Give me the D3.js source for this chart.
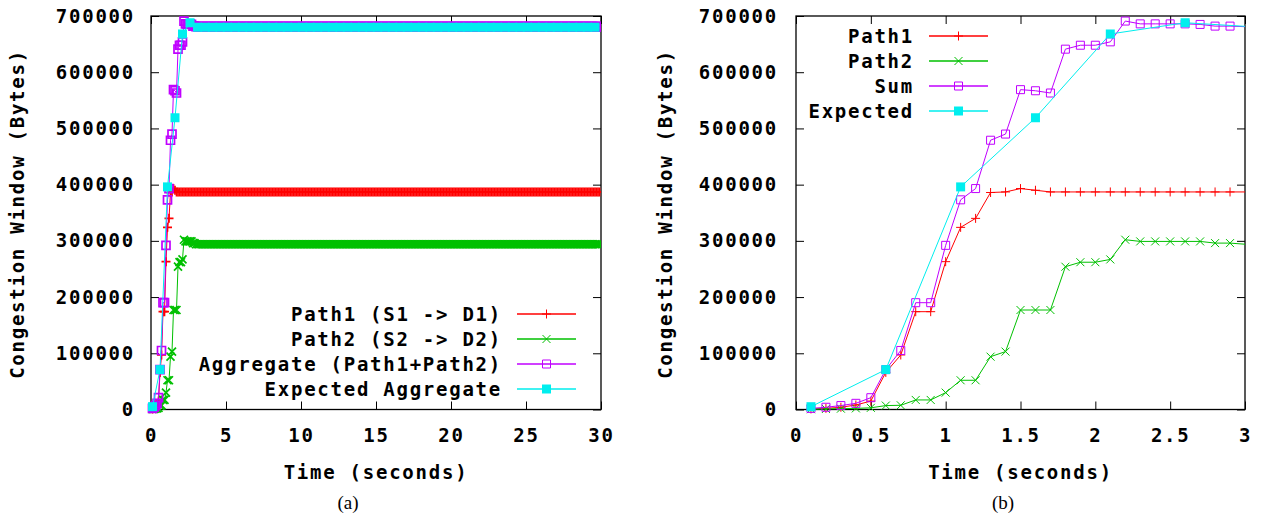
<!DOCTYPE html>
<html>
<head>
<meta charset="utf-8">
<script src="https://cdn.jsdelivr.net/npm/d3@7"></script>
<style>
body { margin: 0; background: #fff; }
text { font-family: "DejaVu Sans Mono", monospace; font-weight: bold; font-size: 19px; letter-spacing: 1.75px; fill: #000; }
text.caption { font-family: "Liberation Serif", serif; font-weight: normal; font-size: 19px; letter-spacing: 0; }
</style>
</head>
<body>
<div id="chart"></div>
<script>
// sampled congestion windows (bytes), one sample every 0.1 s
var time  = [0.1, 0.2, 0.3, 0.4, 0.5, 0.6, 0.7, 0.8, 0.9, 1.0,
             1.1, 1.2, 1.3, 1.4, 1.5, 1.6, 1.7, 1.8, 1.9, 2.0,
             2.1, 2.2, 2.3, 2.4, 2.5, 2.6, 2.7, 2.8, 2.9];
var path1 = [1000, 2000, 4000, 8000, 15000, 66000, 97000, 174000, 174000, 263000,
             324000, 340000, 386000, 387000, 393000, 390000, 387000, 387000, 387000, 387000,
             387000, 387000, 387000, 387000, 387000, 387000, 387000, 387000, 387000];
var path2 = [500, 1000, 1500, 2000, 3000, 7000, 7500, 17000, 17000, 30000,
             52000, 52000, 94000, 103000, 177000, 177000, 177000, 254000, 262000, 262000,
             267000, 302000, 299000, 299000, 299000, 299000, 299000, 296000, 296000];
var sum   = [2000, 4000, 7000, 11000, 21000, 71000, 105000, 190000, 190000, 292000,
             373000, 393000, 479000, 490000, 569000, 567000, 563000, 641000, 648000, 648000,
             654000, 691000, 686000, 686000, 686000, 686000, 685000, 682000, 682000];
// expected aggregate, every 0.5 s
var expTime  = [0.1, 0.6, 1.1, 1.6, 2.1, 2.6, 3.1];
var expected = [5000, 71000, 396000, 519000, 668000, 688000, 680000];

// steady levels (a) after 3 s, run ends at 30 s
var steadyPath1 = 387000, steadyPath2 = 294000, steadySum = 681000, steadyExp = 680000;
var runEnd = 30;

var yTicks = [0, 100000, 200000, 300000, 400000, 500000, 600000, 700000];
var xTicksA = [0, 5, 10, 15, 20, 25, 30];
var xTicksB = [0, 0.5, 1, 1.5, 2, 2.5, 3];
var legendA = ["Path1 (S1 -> D1)", "Path2 (S2 -> D2)", "Aggregate (Path1+Path2)", "Expected Aggregate"];
var legendB = ["Path1", "Path2", "Sum", "Expected"];

var colors = ["#ff0000", "#00c000", "#c000ff", "#00eeee"];
var shapes = ["plus", "cross", "box", "fbox"];

// build the full 30 s run
var tailTime = d3.range(30, runEnd * 10 + 1).map(function(i) { return i / 10; });
var tailExpTime = d3.range(36, runEnd * 10, 5).map(function(i) { return i / 10; });
function pairs(ts, vs) { return ts.map(function(t, i) { return [t, vs[i]]; }); }
function steady(ts, v) { return ts.map(function(t) { return [t, v]; }); }

var series = [
  pairs(time, path1).concat(steady(tailTime, steadyPath1)),
  pairs(time, path2).concat(steady(tailTime, steadyPath2)),
  pairs(time, sum).concat(steady(tailTime, steadySum)),
  pairs(expTime, expected).concat(steady(tailExpTime, steadyExp))
];

var svg = d3.select('#chart').append('svg')
    .attr('width', 1263)
    .attr('height', 516);

function markerPath(kind) {
  if (kind === 'plus') return 'M-4.5,0H4.5M0,-4.5V4.5';
  if (kind === 'cross') return 'M-4,-4L4,4M-4,4L4,-4';
  if (kind === 'box') return 'M-4,-4H4V4H-4Z';
  return 'M-4.5,-4.5H4.5V4.5H-4.5Z';
}

function drawPanel(opt) {
  var top = 16, bottom = 409.5;
  var x = d3.scaleLinear().domain(opt.domain).range([opt.left, opt.right]);
  var y = d3.scaleLinear().domain([0, 700000]).range([bottom, top]);
  var g = svg.append('g');

  g.append('clipPath').attr('id', 'clip' + opt.id)
    .append('rect')
    .attr('x', opt.left - 10).attr('y', 0)
    .attr('width', opt.right - opt.left + 10).attr('height', 516);

  // axes, ticks inward on all four sides
  g.append('g')
    .attr('transform', 'translate(0,' + bottom + ')')
    .call(d3.axisBottom(x).tickValues(opt.xTicks).tickFormat(d3.format('')).tickSize(-8).tickSizeOuter(0).tickPadding(19));
  g.append('g')
    .attr('transform', 'translate(0,' + top + ')')
    .call(d3.axisTop(x).tickValues(opt.xTicks).tickFormat('').tickSize(-8).tickSizeOuter(0));
  g.append('g')
    .attr('transform', 'translate(' + opt.left + ',0)')
    .call(d3.axisLeft(y).tickValues(yTicks).tickFormat(d3.format('d')).tickSize(-8).tickSizeOuter(0).tickPadding(opt.yPad));
  g.append('g')
    .attr('transform', 'translate(' + opt.right + ',0)')
    .call(d3.axisRight(y).tickValues(yTicks).tickFormat('').tickSize(-8).tickSizeOuter(0));
  g.selectAll('.domain').remove();
  g.selectAll('.tick line').attr('stroke', '#000').attr('stroke-width', 1);
  g.selectAll('.tick text').attr('font-size', null).attr('font-family', null);

  g.append('rect')
    .attr('x', opt.left).attr('y', top)
    .attr('width', opt.right - opt.left).attr('height', bottom - top)
    .attr('fill', 'none').attr('stroke', '#000').attr('stroke-width', 1.3);

  // series
  var line = d3.line()
    .x(function(d) { return x(d[0]); })
    .y(function(d) { return y(d[1]); });

  series.forEach(function(s, k) {
    var sg = g.append('g').attr('clip-path', 'url(#clip' + opt.id + ')');
    sg.append('path')
      .datum(s)
      .attr('d', line)
      .attr('fill', 'none')
      .attr('stroke', colors[k])
      .attr('stroke-width', 1);
    sg.selectAll('.pt')
      .data(s.filter(function(d) { return d[0] < opt.domain[1]; }))
      .enter()
      .append('path')
      .attr('class', 'pt')
      .attr('transform', function(d) { return 'translate(' + x(d[0]) + ',' + y(d[1]) + ')'; })
      .attr('d', markerPath(shapes[k]))
      .attr('fill', shapes[k] === 'fbox' ? colors[k] : 'none')
      .attr('stroke', shapes[k] === 'fbox' ? 'none' : colors[k])
      .attr('stroke-width', opt.markW);
  });

  // legend
  var lg = g.append('g');
  opt.legend.forEach(function(label, k) {
    var ry = opt.legY + k * 25;
    lg.append('text')
      .attr('x', opt.legX)
      .attr('y', ry)
      .attr('dy', '0.36em')
      .attr('text-anchor', 'end')
      .text(label);
    lg.append('line')
      .attr('x1', opt.legX + 15).attr('x2', opt.legX + 74)
      .attr('y1', ry).attr('y2', ry)
      .attr('stroke', colors[k]).attr('stroke-width', 1.3);
    lg.append('path')
      .attr('transform', 'translate(' + (opt.legX + 44.5) + ',' + ry + ')')
      .attr('d', markerPath(shapes[k]))
      .attr('fill', shapes[k] === 'fbox' ? colors[k] : 'none')
      .attr('stroke', shapes[k] === 'fbox' ? 'none' : colors[k])
      .attr('stroke-width', 1);
  });

  // titles
  g.append('text')
    .attr('x', (opt.left + opt.right) / 2)
    .attr('y', 472)
    .attr('dy', '0.36em')
    .attr('text-anchor', 'middle')
    .text('Time (seconds)');
  g.append('text')
    .attr('transform', 'translate(' + opt.titleX + ',214) rotate(-90)')
    .attr('dy', '0.36em')
    .attr('text-anchor', 'middle')
    .text('Congestion Window (Bytes)');
  g.append('text')
    .attr('class', 'caption')
    .attr('x', opt.capX)
    .attr('y', 509)
    .attr('text-anchor', 'middle')
    .text(opt.caption);
}

drawPanel({ id: 'a', left: 151, right: 601, domain: [0, 30], xTicks: xTicksA, yPad: 16, markW: 1.7,
            legend: legendA, legX: 502, legY: 314, titleX: 17, capX: 348, caption: '(a)' });
drawPanel({ id: 'b', left: 796, right: 1245, domain: [0, 3], xTicks: xTicksB, yPad: 18, markW: 1,
            legend: legendB, legX: 914, legY: 36, titleX: 665, capX: 1003, caption: '(b)' });
</script>
</body>
</html>
